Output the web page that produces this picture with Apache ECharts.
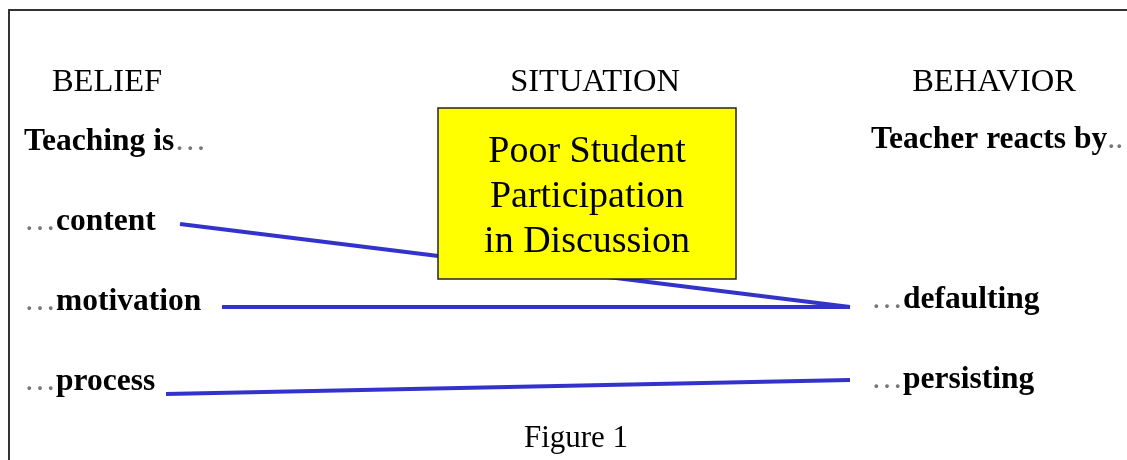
<!DOCTYPE html>
<html>
<head>
<meta charset="utf-8">
<script src="https://cdn.jsdelivr.net/npm/echarts@6/dist/echarts.min.js"></script>
<style>
html,body{margin:0;padding:0;background:#fff;}
#c{width:1127px;height:460px;}
</style>
</head>
<body>
<div id="c"></div>
<script>
// ---- data ----
const headers = ['BELIEF', 'SITUATION', 'BEHAVIOR'];
const beliefIntro = 'Teaching is';
const behaviorIntro = 'Teacher reacts by';
const beliefs = ['content', 'motivation', 'process'];
const behaviors = ['defaulting', 'persisting'];
const situationText = ['Poor Student', 'Participation', 'in Discussion'];
const caption = 'Figure 1';
// connecting lines: [start, end] in diagram units
const contentLine = [[180, 224], [850, 307]];
const motivationLine = [[222, 307], [850, 307]];
const processLine = [[166, 394], [850, 380]];
// situation box: [x0, y0, x1, y1]
const situationBox = [438, 108, 736, 279];

const W = 1127, H = 460;
const serif = '"Liberation Serif", "DejaVu Serif", serif';
const blue = '#3333cc';

const chart = echarts.init(document.getElementById('c'), null, {renderer: 'canvas'});

function lineSeries(name, data) {
  return {
    name, type: 'line', data, symbol: 'none', z: 2,
    lineStyle: {color: blue, width: 4}, animation: false, silent: true
  };
}

function richLabel(word) {
  return '{d|…}{b|' + word + '}';
}
const rich = {
  d: {fontFamily: serif, fontSize: 32, fill: '#777', fontWeight: 'normal'},
  b: {fontFamily: serif, fontSize: 31.5, fill: '#000', fontWeight: 'bold'}
};

const textEls = [];
function addText(x, y, text, opts) {
  textEls.push(Object.assign({
    type: 'text', x, y, z: 1,
    style: Object.assign({
      text, fontFamily: serif, fontSize: 30, fill: '#000',
      verticalAlign: 'middle'
    }, opts || {})
  }));
}
// headers
addText(107, 82, headers[0], {fontSize: 32.5, align: 'center'});
addText(595, 82, headers[1], {fontSize: 32.5, align: 'center'});
addText(994, 82, headers[2], {fontSize: 32.5, align: 'center'});
// intros
textEls.push({type: 'text', x: 24, y: 142, style: {
  text: '{b|' + beliefIntro + '}{d|…}', rich, verticalAlign: 'middle'}});
textEls.push({type: 'text', x: 871, y: 140, style: {
  text: '{b|' + behaviorIntro + '}{d|..}', rich, verticalAlign: 'middle'}});
// beliefs
const beliefY = [222, 302, 382];
beliefs.forEach((b, i) => {
  textEls.push({type: 'text', x: 24, y: beliefY[i], style: {text: richLabel(b), rich, verticalAlign: 'middle'}});
});
const behaviorY = [300, 380];
behaviors.forEach((b, i) => {
  textEls.push({type: 'text', x: 871, y: behaviorY[i], style: {text: richLabel(b), rich, verticalAlign: 'middle'}});
});
addText(576, 439, caption, {fontSize: 31, align: 'center'});
// border frame
textEls.push({type: 'rect', shape: {x: 9, y: 10, width: 1200, height: 500}, z: 0,
  style: {fill: 'none', stroke: '#333', lineWidth: 2}});

const option = {
  animation: false,
  backgroundColor: '#fff',
  grid: {left: 0, right: 0, top: 0, bottom: 0},
  xAxis: {type: 'value', min: 0, max: W, show: false},
  yAxis: {type: 'value', min: 0, max: H, inverse: true, show: false},
  graphic: {elements: textEls},
  series: [
    lineSeries('content', contentLine),
    lineSeries('motivation', motivationLine),
    lineSeries('process', processLine),
    {
      type: 'custom', z: 5, silent: true,
      data: [situationBox],
      renderItem: function (params, api) {
        const p0 = api.coord([api.value(0), api.value(1)]);
        const p1 = api.coord([api.value(2), api.value(3)]);
        const cx = (p0[0] + p1[0]) / 2;
        const children = [{
          type: 'rect',
          shape: {x: p0[0], y: p0[1], width: p1[0] - p0[0], height: p1[1] - p0[1]},
          style: {fill: '#ffff00', stroke: '#222', lineWidth: 1.5}
        }];
        situationText.forEach((t, i) => {
          children.push({
            type: 'text', x: cx, y: p0[1] + 44 + i * 45,
            style: {text: t, fontFamily: serif, fontSize: 38, fill: '#000',
              align: 'center', verticalAlign: 'middle'}
          });
        });
        return {type: 'group', children};
      }
    }
  ]
};
chart.setOption(option);
</script>
</body>
</html>
